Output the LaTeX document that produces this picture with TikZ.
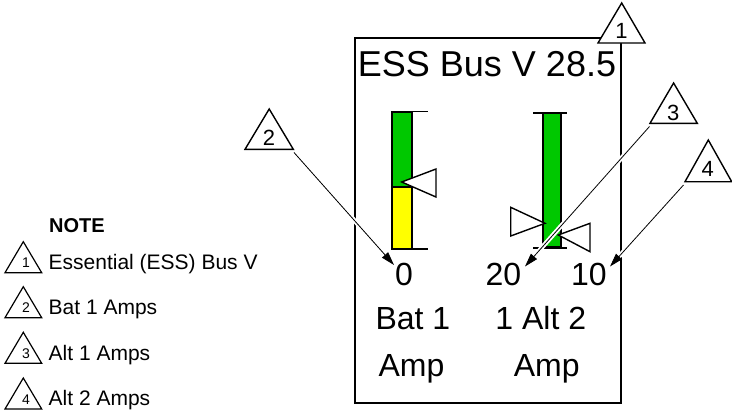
\documentclass[tikz,border=0pt]{standalone}
\usepackage{fontspec}
\setmainfont{Liberation Sans}
\usetikzlibrary{arrows.meta}
\definecolor{barg}{RGB}{0,200,0}
\definecolor{bary}{RGB}{255,255,0}
\begin{document}
\begin{tikzpicture}[x=1pt,y=-1pt,
  box/.style={draw=black,line width=2pt},
  barline/.style={draw=black,line width=1.8pt},
  tick/.style={draw=black,line width=1.5pt},
  ptr/.style={draw=black,fill=white,line width=1.4pt,line join=miter},
  tri/.style={draw=black,fill=white,line width=1.4pt,line join=miter},
  smalltri/.style={draw=black,fill=white,line width=1.2pt,line join=miter},
  leader/.style={line width=0.8pt,-{Triangle[length=13.5pt,width=8pt]},
    preaction={draw=white,line width=4.5pt,-}},
  big/.style={inner sep=0pt,font=\fontsize{32}{38}\selectfont},
  title/.style={inner sep=0pt,font=\fontsize{36}{42}\selectfont},
  tnum/.style={inner sep=0pt,font=\fontsize{22}{26}\selectfont},
  lnum/.style={inner sep=0pt,font=\fontsize{14}{16}\selectfont},
  ltext/.style={inner sep=0pt,anchor=base west,font=\fontsize{21}{25}\selectfont},
  lhead/.style={inner sep=0pt,anchor=base west,font=\fontsize{20}{24}\selectfont\bfseries}]
\useasboundingbox (0,0) rectangle (732,413);
% main box
\draw[box] (355,38) rectangle (621,403);
% Bat 1 bar
\fill[barg] (391.7,111.7) rectangle (411.7,187);
\fill[bary] (391.7,187) rectangle (411.7,249);
\draw[barline] (391.7,111.7) rectangle (411.7,249);
\draw[barline] (391.7,187) -- (411.7,187);
\draw[tick] (411.7,111.7) -- (428,111.7);
\draw[tick] (411.7,249) -- (428,249);
\draw[ptr] (401.7,182) -- (436,169) -- (436,197) -- cycle;
% Alt bar
\fill[barg] (542.7,112.7) rectangle (560.7,247);
\draw[barline] (542.7,112.7) rectangle (560.7,247);
\draw[tick] (533,113) -- (566.7,113);
\draw[line width=2.4pt] (533,248) -- (566.7,248);
\draw[ptr] (545,223.3) -- (510.7,207.3) -- (510.7,236) -- cycle;
\draw[ptr] (558.3,235) -- (590,223.3) -- (590,251.7) -- cycle;
% leader ends
\coordinate (s2) at (294,152.5);
\coordinate (s3) at (649.5,126.5);
\coordinate (s4) at (683.5,185);
\coordinate (e2) at (394,265);
\coordinate (e3) at (525,266.5);
\coordinate (e4) at (610,266.5);
\draw[leader] (s2) -- (e2);
\draw[leader] (s3) -- (e3);
\draw[leader] (s4) -- (e4);
% callout triangles
\draw[tri] (598,43) -- (621.7,3) -- (645,43) -- cycle;
\node[tnum] (n1) at (621.5,31) {1};
\draw[tri] (245,149.3) -- (269.2,109) -- (293.3,149.3) -- cycle;
\node[tnum] (n2) at (269,138) {2};
\draw[tri] (650,123.3) -- (673.6,83) -- (697.3,123.3) -- cycle;
\node[tnum] (n3) at (673.3,113) {3};
\draw[tri] (685,181.7) -- (708.3,140) -- (731.7,181.7) -- cycle;
\node[tnum] (n4) at (707.7,169) {4};
% texts
\node[title,anchor=base] (ttl) at (487,76) {ESS Bus V 28.5};
\node[big,anchor=base] (v0) at (404,285) {0};
\node[big,anchor=base] (v20) at (503.3,285) {20};
\node[big,anchor=base] (v10) at (589,285) {10};
\node[big,anchor=base] (l1) at (412.9,329) {Bat 1};
\node[big,anchor=base] (l2) at (540.8,329) {1 Alt 2};
\node[big,anchor=base] (l3) at (411.5,376.7) {Amp};
\node[big,anchor=base] (l4) at (546.7,376.7) {Amp};
% legend
\node[lhead] (note) at (49,232.7) {NOTE};
\draw[smalltri] (5,272.7) -- (23.3,241.7) -- (41.7,272.7) -- cycle;
\node[lnum] (k1) at (26,263) {1};
\node[ltext] (d1) at (48.5,269.3) {Essential (ESS) Bus V};
\draw[smalltri] (5,317.7) -- (23.3,286.7) -- (41.7,317.7) -- cycle;
\node[lnum] (k2) at (26,308) {2};
\node[ltext] (d2) at (48.5,314) {Bat 1 Amps};
\draw[smalltri] (5,363.3) -- (23.3,332.3) -- (41.7,363.3) -- cycle;
\node[lnum] (k3) at (26,353.6) {3};
\node[ltext] (d3) at (48.5,360) {Alt 1 Amps};
\draw[smalltri] (5,409) -- (23.3,378) -- (41.7,409) -- cycle;
\node[lnum] (k4) at (26,399.3) {4};
\node[ltext] (d4) at (48.5,405) {Alt 2 Amps};
\end{tikzpicture}
\end{document}
